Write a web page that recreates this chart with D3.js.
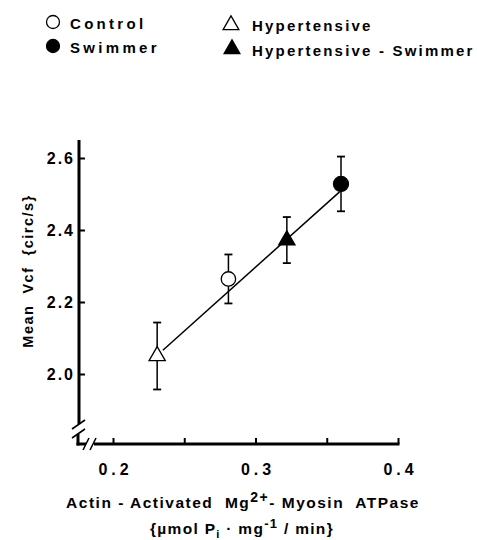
<!DOCTYPE html>
<html>
<head>
<meta charset="utf-8">
<script src="https://cdn.jsdelivr.net/npm/d3@7"></script>
<style>
  body { margin: 0; background: #fff; }
  svg text { font-family: "Liberation Sans", Arial, sans-serif; font-weight: bold; fill: #000; }
</style>
</head>
<body>
<script>
// data
var groups = ["Hypertensive", "Control", "Hypertensive - Swimmer", "Swimmer"];
var atpase = [0.231, 0.281, 0.322, 0.360];
var vcf = [2.05, 2.264, 2.372, 2.528];
var sem = [0.093, 0.068, 0.064, 0.076];
var shapes = ["triangle", "circle", "triangle", "circle"];
var filled = [false, false, true, true];
var lineX = [0.235, 0.359];
var lineY = [2.066, 2.506];
var xTicks = [0.2, 0.25, 0.3, 0.35, 0.4];
var xTickLabels = ["0.2", "", "0.3", "", "0.4"];
var yTicks = [2.0, 2.2, 2.4, 2.6];
var legendOrder = ["Control", "Swimmer", "Hypertensive", "Hypertensive - Swimmer"];

var W = 477, H = 540;
var svg = d3.select("body").append("svg")
    .attr("width", W)
    .attr("height", H);

var x = d3.scaleLinear().domain([0.2, 0.4]).range([113, 398]);
var y = d3.scaleLinear().domain([2.0, 2.6]).range([374, 158]);

var x0 = 78, y0 = 444;   // axis corner

var marker = function(sel, shape, isFilled, r) {
    if (shape == "circle") {
        sel.append("circle").attr("r", r);
    } else {
        sel.append("path").attr("d", d3.symbol().type(d3.symbolTriangle).size(r * r * 2.2)());
    }
    sel.selectAll("circle, path")
        .attr("fill", isFilled ? "#000" : "#fff")
        .attr("stroke", "#000")
        .attr("stroke-width", 1.3);
};

// ---- axes ----
var axisLine = svg.append("g").attr("stroke", "#000").attr("stroke-width", 3).attr("fill", "none");
// y axis with break
axisLine.append("line").attr("x1", x0 + 1).attr("x2", x0 + 1).attr("y1", y(2.65)).attr("y2", 424);
axisLine.append("line").attr("x1", x0).attr("x2", x0).attr("y1", 434).attr("y2", y0 + 1.5);
// x axis with break
axisLine.append("line").attr("x1", x0 - 1.5).attr("x2", 86).attr("y1", y0).attr("y2", y0);
axisLine.append("line").attr("x1", 94).attr("x2", x(0.4) + 1.5).attr("y1", y0).attr("y2", y0);

var brk = svg.append("g").attr("stroke", "#000").attr("stroke-width", 1.6);
brk.append("line").attr("x1", x0 - 6).attr("y1", 429).attr("x2", x0 + 7).attr("y2", 420);
brk.append("line").attr("x1", x0 - 6).attr("y1", 438).attr("x2", x0 + 7).attr("y2", 429);
brk.append("line").attr("x1", 83).attr("y1", y0 + 6).attr("x2", 89).attr("y2", y0 - 6);
brk.append("line").attr("x1", 90).attr("y1", y0 + 6).attr("x2", 96).attr("y2", y0 - 6);

var yAxis = svg.append("g")
    .attr("transform", "translate(" + (x0 + 1) + ",0)")
    .call(d3.axisLeft(y).tickValues(yTicks).tickFormat(d3.format(".1f")).tickSizeInner(-6).tickSizeOuter(0).tickPadding(6));
yAxis.select(".domain").remove();
yAxis.selectAll(".tick line").attr("stroke-width", 2);
yAxis.selectAll(".tick text").attr("font-size", 16).attr("letter-spacing", 2).attr("dx", 2);

var xAxis = svg.append("g")
    .attr("transform", "translate(0," + y0 + ")")
    .call(d3.axisBottom(x).tickValues(xTicks).tickFormat(function(d, i) { return xTickLabels[i]; })
        .tickSizeInner(-6).tickSizeOuter(0).tickPadding(20));
xAxis.select(".domain").remove();
xAxis.selectAll(".tick line").attr("stroke-width", 2);
xAxis.selectAll(".tick text").attr("font-size", 16).attr("letter-spacing", 4).attr("dx", 2);

// axis titles
svg.append("text")
    .attr("transform", "translate(33,271) rotate(-90)")
    .attr("text-anchor", "middle")
    .attr("font-size", 14.5)
    .attr("letter-spacing", 1.5)
    .attr("xml:space", "preserve")
    .text("Mean  Vcf  {circ/s}");

var xt1 = svg.append("text")
    .attr("x", 243).attr("y", 508)
    .attr("text-anchor", "middle")
    .attr("font-size", 15.5)
    .attr("letter-spacing", 1.5)
    .attr("xml:space", "preserve");
xt1.append("tspan").text("Actin - Activated  Mg");
xt1.append("tspan").attr("dy", -6).attr("font-size", 14).text("2+");
xt1.append("tspan").attr("dy", 6).text("- Myosin  ATPase");

var xt2 = svg.append("text")
    .attr("x", 242).attr("y", 534)
    .attr("text-anchor", "middle")
    .attr("font-size", 15.5)
    .attr("letter-spacing", 1.3)
    .attr("xml:space", "preserve");
xt2.append("tspan").text("{µmol P");
xt2.append("tspan").attr("dy", 4).attr("font-size", 11).text("i");
xt2.append("tspan").attr("dy", -4).text(" · mg");
xt2.append("tspan").attr("dy", -6).attr("font-size", 13).text("-1");
xt2.append("tspan").attr("dy", 6).text(" / min}");

// ---- regression line ----
svg.append("line")
    .attr("x1", x(lineX[0])).attr("y1", y(lineY[0]))
    .attr("x2", x(lineX[1])).attr("y2", y(lineY[1]))
    .attr("stroke", "#000").attr("stroke-width", 1.5);

// ---- error bars and points ----
var pts = svg.selectAll("g.pt")
    .data(d3.range(groups.length))
    .enter().append("g").attr("class", "pt");

pts.append("line")
    .attr("x1", function(i) { return x(atpase[i]); })
    .attr("x2", function(i) { return x(atpase[i]); })
    .attr("y1", function(i) { return y(vcf[i] - sem[i]); })
    .attr("y2", function(i) { return y(vcf[i] + sem[i]); })
    .attr("stroke", "#000").attr("stroke-width", 1.5);

[-1, 1].forEach(function(s) {
    pts.append("line")
        .attr("x1", function(i) { return x(atpase[i]) - 4; })
        .attr("x2", function(i) { return x(atpase[i]) + 4; })
        .attr("y1", function(i) { return y(vcf[i] + s * sem[i]); })
        .attr("y2", function(i) { return y(vcf[i] + s * sem[i]); })
        .attr("stroke", "#000").attr("stroke-width", 1.8);
});

pts.each(function(i) {
    var g = d3.select(this).append("g")
        .attr("transform", "translate(" + x(atpase[i]) + "," + y(vcf[i]) + ")");
    marker(g, shapes[i], filled[i], filled[i] && shapes[i] == "circle" ? 7.5 : 7.2);
});

// ---- legend ----
var legPos = { "Control": [53, 22, 70, 29], "Swimmer": [53, 46, 70, 53],
               "Hypertensive": [231, 25, 252, 31], "Hypertensive - Swimmer": [232, 49, 252, 56] };
var leg = svg.selectAll("g.legend")
    .data(legendOrder)
    .enter().append("g").attr("class", "legend");

leg.each(function(name) {
    var i = groups.indexOf(name);
    var p = legPos[name];
    var g = d3.select(this).append("g").attr("transform", "translate(" + p[0] + "," + p[1] + ")");
    marker(g, shapes[i], filled[i], shapes[i] == "circle" ? 6.5 : 7);
    d3.select(this).append("text")
        .attr("x", p[2]).attr("y", p[3])
        .attr("font-size", 15)
        .attr("letter-spacing", name == "Control" || name == "Swimmer" ? 3.3 : 2.2)
        .attr("xml:space", "preserve")
        .text(name);
});
</script>
</body>
</html>
